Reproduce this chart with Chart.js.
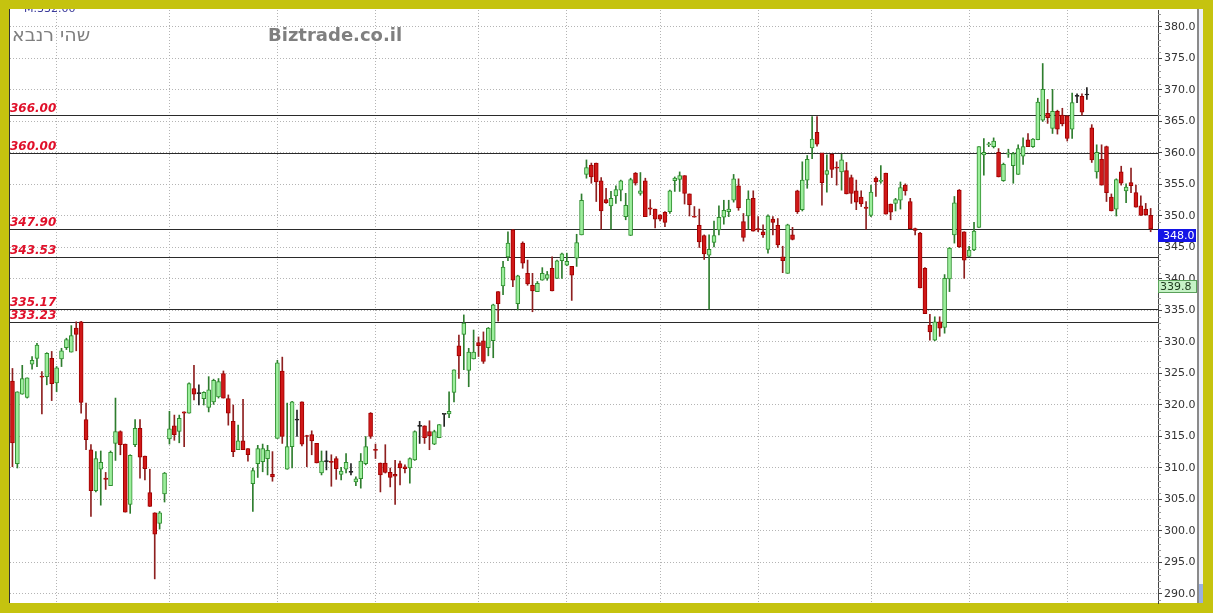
<!DOCTYPE html>
<html><head><meta charset="utf-8">
<script src="https://cdn.jsdelivr.net/npm/chart.js@4.4.1/dist/chart.umd.min.js"></script>
<style>html,body{margin:0;padding:0;background:#c5c30f;overflow:hidden}#wrap{position:absolute;left:0;top:0;width:1213px;height:613px}</style>
</head><body><div id="wrap"><canvas id="c" width="1213" height="613"></canvas></div>
<script>
const opens = [323.8,310.7,321.7,321.2,326.5,327.4,324.6,324.5,327.4,323.5,
327.3,329.1,328.4,332.2,333.2,317.7,312.9,306.4,309.8,308.4,
307.2,313.9,315.8,313.8,304.2,313.7,316.3,311.9,306.1,302.9,
301.2,305.9,314.6,316.7,315.8,318.9,318.7,322.6,321.8,321.0,
319.6,320.5,321.3,325.0,321.0,317.4,312.9,314.3,313.1,307.5,
310.7,311.0,311.5,309.0,314.7,325.4,309.8,313.4,317.6,320.5,
315.1,315.3,313.9,309.2,311.0,311.0,311.5,309.0,309.8,309.3,
307.8,308.3,310.7,318.7,312.9,310.8,310.8,309.3,309.0,310.7,
310.2,310.0,311.3,316.6,316.7,315.8,313.8,314.8,318.5,318.6,
322.0,329.4,331.2,325.5,327.3,329.9,330.2,329.1,330.2,338.0,
338.9,343.5,347.8,336.1,345.7,340.9,339.0,338.0,339.8,340.1,
341.7,340.1,342.9,342.2,342.0,343.3,347.0,356.6,358.1,358.4,
355.6,352.6,351.6,353.2,354.1,349.9,346.9,356.8,353.6,355.6,
351.3,351.1,350.2,350.6,350.7,355.6,355.8,356.4,353.5,350.0,
348.5,346.9,343.8,345.8,347.8,349.8,350.7,352.5,354.8,349.1,
350.0,352.8,348.0,347.5,344.7,349.5,348.5,343.5,340.9,347.0,
354.0,351.0,355.7,360.8,363.3,360.0,356.6,359.8,357.7,357.0,
357.2,356.1,354.0,353.0,351.4,350.1,356.0,355.5,356.8,351.9,
352.0,352.5,354.9,352.3,348.0,347.3,341.7,332.7,330.3,333.2,
332.3,340.0,347.0,354.1,347.5,343.6,344.6,348.2,359.7,361.3,
361.0,360.1,355.6,359.8,358.0,356.6,359.5,362.1,361.0,362.1,
365.2,366.3,363.9,366.6,366.0,365.9,363.8,369.0,369.0,369.2,
364.0,357.0,359.0,361.0,353.0,351.1,357.0,354.0,355.3,353.7,
351.6,351.1,350.1];
const highs = [325.8,322.1,326.3,324.3,327.7,329.8,325.3,328.3,328.5,326.1,
329.0,330.6,332.6,333.2,333.3,320.3,313.7,312.6,312.7,309.3,
312.7,321.1,315.9,313.8,312.1,317.7,317.7,311.9,309.8,302.9,
303.1,309.3,319.0,318.4,318.4,318.9,323.5,326.3,323.2,322.1,
324.5,324.1,324.2,325.4,321.6,320.0,316.8,320.9,313.1,310.0,
313.6,313.8,313.6,312.6,327.1,327.6,320.3,320.6,319.2,320.5,
315.2,315.9,313.9,312.7,312.7,312.1,311.8,310.1,312.3,310.7,
308.6,312.3,315.0,318.8,313.8,310.8,313.7,310.0,311.2,311.1,
310.5,311.6,315.9,317.4,316.7,317.5,316.0,316.9,318.5,322.1,
325.6,331.1,334.3,329.0,331.9,330.8,331.6,332.3,336.0,338.0,
342.8,347.5,347.9,340.6,345.9,343.0,340.9,339.6,341.8,341.2,
343.5,343.0,344.1,344.1,342.0,347.1,353.5,358.9,358.4,358.4,
356.1,354.4,353.9,354.8,355.7,353.6,356.0,356.9,356.9,356.0,
352.6,351.1,350.2,350.7,354.1,356.2,357.0,356.4,353.5,351.5,
351.1,347.0,347.0,349.2,351.6,352.5,352.5,356.6,355.9,350.4,
354.0,354.0,349.9,348.6,350.2,349.9,349.6,345.2,348.7,348.2,
354.1,358.6,359.6,365.8,365.8,360.0,359.7,359.9,358.6,359.8,
358.5,356.5,355.7,354.0,352.3,354.9,356.2,358.0,356.8,351.9,
352.8,355.4,355.1,352.8,348.1,347.4,341.8,334.4,334.0,334.0,
340.7,345.0,353.1,354.2,347.5,345.2,349.0,361.0,362.3,361.7,
362.4,360.7,358.4,360.6,360.1,361.3,362.4,363.1,362.3,368.7,
374.2,368.5,370.1,366.8,367.1,365.9,369.5,369.4,369.4,370.4,
364.5,361.3,361.3,361.1,353.5,355.9,357.9,355.1,357.6,354.9,
353.2,352.0,351.2];
const lows = [310.2,310.0,321.7,321.1,325.7,326.1,318.6,323.2,320.7,322.1,
326.1,328.8,328.4,328.6,318.7,312.9,302.3,306.2,304.1,306.6,
307.2,311.2,312.1,303.0,302.8,313.4,308.4,308.1,303.9,292.4,
300.3,304.6,313.8,314.4,314.0,313.4,318.7,320.8,320.0,320.0,
318.9,320.1,321.1,321.1,316.8,311.8,312.9,312.9,311.1,303.1,
308.5,309.4,308.9,307.9,314.7,313.9,309.8,310.0,315.0,313.5,
310.2,312.1,310.8,308.9,309.7,307.1,308.2,308.1,309.2,308.9,
307.2,306.8,310.5,314.7,311.5,306.2,309.2,307.0,304.2,307.3,
309.2,307.6,311.2,313.9,313.9,312.9,313.7,314.8,316.6,318.0,
320.5,324.2,325.6,322.9,327.3,327.7,326.6,327.8,327.5,333.3,
337.5,342.9,338.8,335.1,341.7,339.0,334.8,338.0,339.8,339.8,
338.1,340.1,340.1,342.1,336.6,342.0,347.0,356.0,355.2,352.3,
347.9,352.0,347.9,352.0,352.4,349.4,346.9,354.9,353.3,349.9,
350.2,348.1,349.2,348.3,350.4,353.9,353.9,351.9,350.0,349.8,
345.0,343.1,335.2,345.1,347.0,348.7,349.9,352.2,350.9,346.0,
347.9,347.6,347.5,346.6,344.1,347.0,345.0,341.0,340.9,346.2,
350.4,350.8,354.4,359.1,361.1,351.7,353.8,356.1,354.9,354.1,
353.5,352.0,351.0,351.5,347.9,349.9,353.1,355.2,350.3,349.4,
350.8,351.1,353.3,348.0,347.0,338.6,334.5,330.3,330.2,330.9,
331.4,338.0,345.7,345.0,340.1,343.6,344.5,348.2,356.5,361.0,
360.8,356.2,355.5,359.3,355.2,356.6,358.2,361.0,360.9,362.1,
365.0,364.7,363.1,363.0,364.3,361.9,362.3,368.0,366.0,368.5,
358.5,356.0,354.9,352.3,350.8,350.0,354.9,352.1,353.7,351.4,
350.1,350.1,347.5];
const closes = [314.0,322.1,324.2,324.3,327.1,329.5,324.4,328.2,323.4,325.9,
328.6,330.4,331.0,331.2,320.4,314.5,306.4,311.5,310.9,308.2,
312.5,315.8,313.7,303.0,312.0,316.3,311.7,309.9,303.9,299.5,
302.9,309.2,316.2,315.3,317.9,318.7,323.4,321.7,321.8,322.0,
322.4,323.9,323.7,321.1,318.7,312.6,314.3,312.9,312.1,309.6,
313.1,313.1,312.8,308.6,326.7,315.0,313.4,320.5,317.6,313.8,
315.0,314.3,310.8,311.1,311.0,310.9,309.9,309.5,310.9,309.3,
308.3,311.1,313.4,315.0,312.8,308.9,309.3,308.5,308.7,310.0,
309.9,311.5,315.8,316.6,314.8,315.1,315.8,316.9,318.5,319.0,
325.6,327.8,333.0,328.4,328.4,329.4,326.9,332.2,335.9,336.1,
341.9,345.7,339.8,340.5,342.5,339.2,338.1,339.3,340.9,340.7,
338.1,342.9,344.0,342.8,340.6,345.8,352.5,357.7,356.2,355.4,
350.8,352.1,352.8,354.2,355.6,351.7,355.8,355.2,354.0,349.9,
351.1,349.5,349.5,349.0,354.0,356.0,356.4,353.6,351.8,349.8,
345.9,344.0,344.7,346.9,349.8,350.9,351.1,355.9,351.3,346.6,
352.7,347.6,347.8,347.0,350.0,349.0,345.4,342.9,348.6,346.3,
350.7,355.7,359.0,362.2,361.4,355.3,357.2,357.4,357.6,358.9,
353.5,353.6,352.2,351.9,351.2,353.8,355.4,355.6,350.3,350.6,
352.6,354.5,354.0,348.0,347.7,338.6,334.5,331.6,333.2,332.2,
340.1,344.9,352.1,345.1,343.0,344.6,347.6,361.0,360.1,361.4,
361.9,356.2,358.2,359.9,359.9,360.7,361.0,361.0,362.2,368.1,
370.1,365.6,366.6,363.8,364.6,362.3,368.0,369.0,366.5,369.2,
358.9,360.1,354.9,353.7,350.8,355.8,355.2,354.6,354.8,351.4,
350.1,350.2,348.0];

const levelValues = [366.00, 360.00, 347.90, 343.53, 335.17, 333.23];
const levelLabels = ['366.00', '360.00', '347.90', '343.53', '335.17', '333.23'];
const monthLineIndex = [9, 32, 54, 74, 95, 113, 132, 152, 175, 195, 215];
const yTickValues = [290, 295, 300, 305, 310, 315, 320, 325, 330, 335, 340, 345, 350, 355, 360, 365, 370, 375, 380];
const lastPrice = 348.0;
const lastPriceLabel = '348.0';
const markerPrice = 339.8;
const markerLabel = '339.8';
const titleHebrew = 'אבנר יהש';
const titleSite = 'Biztrade.co.il';
const topInfo = 'M.332.00';

const UP_FILL = '#9cee9c', UP_BORDER = '#2f8f2f', UP_WICK = '#2e7d2e';
const DN_FILL = '#d01818', DN_BORDER = '#a00000', DN_WICK = '#8e2020';
const DJ = '#222222';

const dir = opens.map((o, i) => closes[i] > o ? 1 : (closes[i] < o ? -1 : 0));
const bodyFill = dir.map(d => d > 0 ? UP_FILL : d < 0 ? DN_FILL : DJ);
const bodyBorder = dir.map(d => d > 0 ? UP_BORDER : d < 0 ? DN_BORDER : DJ);
const wickColor = dir.map(d => d > 0 ? UP_WICK : d < 0 ? DN_WICK : DJ);

// draw characters one by one, left to right (as in the original image)
function drawCharsLTR(ctx, text, x, y) {
  let cx = x;
  for (const ch of text) {
    ctx.fillText(ch, cx, y);
    cx += ctx.measureText(ch).width;
  }
}

const deco = {
  id: 'deco',
  beforeDraw(chart) {
    const ctx = chart.ctx;
    ctx.save();
    ctx.fillStyle = '#c5c30f';
    ctx.fillRect(0, 0, 1213, 613);
    ctx.fillStyle = '#ffffff';
    ctx.fillRect(9, 9, 1194, 594);
    ctx.fillStyle = '#eef0f6';
    ctx.fillRect(1199, 9, 4, 594);
    ctx.fillStyle = '#8a8a8a';
    ctx.fillRect(1197, 9, 2, 594);
    ctx.fillStyle = '#9ab0e0';
    ctx.fillRect(1199, 584, 4, 19);
    ctx.restore();
  },
  beforeDatasetsDraw(chart) {
    const {ctx, chartArea: {left, right}, scales: {y}} = chart;
    ctx.save();
    ctx.strokeStyle = '#2a2a2a';
    ctx.lineWidth = 1;
    levelValues.forEach(v => {
      const py = Math.round(y.getPixelForValue(v)) + 0.5;
      ctx.beginPath(); ctx.moveTo(left, py); ctx.lineTo(right, py); ctx.stroke();
    });
    ctx.restore();
  },
  afterDraw(chart) {
    const {ctx, chartArea: {left, right, top, bottom}, scales: {y}} = chart;
    ctx.save();
    ctx.fillStyle = '#333';
    ctx.fillRect(9, 9, 1, 594);
    ctx.strokeStyle = '#999';
    ctx.lineWidth = 1;
    for (let v = 289; v <= 382; v++) {
      if (v % 5 === 0) continue;
      const py = Math.round(y.getPixelForValue(v)) + 0.5;
      ctx.beginPath(); ctx.moveTo(right, py); ctx.lineTo(right + 3, py); ctx.stroke();
    }
    ctx.font = 'italic bold 12px "DejaVu Sans"';
    ctx.fillStyle = '#e0102a';
    ctx.textBaseline = 'alphabetic';
    ctx.textAlign = 'left';
    levelValues.forEach((v, i) => {
      const py = Math.round(y.getPixelForValue(v)) + 0.5;
      ctx.fillText(levelLabels[i], 10, py - 4);
    });
    ctx.fillStyle = '#7f7f7f';
    ctx.font = '19px "DejaVu Sans"';
    drawCharsLTR(ctx, titleHebrew, 12, 41);
    ctx.font = 'bold 18px "DejaVu Sans"';
    ctx.fillText(titleSite, 268, 41);
    ctx.save();
    ctx.beginPath(); ctx.rect(9, 9, 1194, 594); ctx.clip();
    ctx.font = '11px "DejaVu Sans"';
    ctx.fillStyle = '#3a3a9a';
    ctx.fillText(topInfo, 24, 12);
    ctx.restore();
    const yb = Math.round(y.getPixelForValue(lastPrice));
    ctx.fillStyle = '#1414e6';
    ctx.fillRect(right, yb, 38, 13);
    ctx.fillStyle = '#ffffff';
    ctx.font = '11px "DejaVu Sans"';
    ctx.textBaseline = 'middle';
    ctx.fillText(lastPriceLabel, right + 5, yb + 7);
    const ym = Math.round(y.getPixelForValue(markerPrice));
    ctx.fillStyle = '#c6f2c6';
    ctx.fillRect(right, ym, 39, 13);
    ctx.strokeStyle = '#5aa05a';
    ctx.strokeRect(right + 0.5, ym + 0.5, 38, 12);
    ctx.fillStyle = '#1e3a1e';
    ctx.fillText(markerLabel, right + 2, ym + 7);
    ctx.restore();
  }
};

new Chart(document.getElementById('c'), {
  type: 'bar',
  data: {
    datasets: [
      {
        label: 'wick',
        data: lows.map((l, i) => ({x: i, y: [l, highs[i]]})),
        backgroundColor: wickColor,
        borderWidth: 0,
        barThickness: 1,
        grouped: false,
        order: 2
      },
      {
        label: 'body',
        data: opens.map((o, i) => ({x: i, y: [o, closes[i]]})),
        backgroundColor: bodyFill,
        borderColor: bodyBorder,
        borderWidth: 1,
        borderSkipped: false,
        barThickness: 4,
        minBarLength: 1,
        grouped: false,
        order: 1
      }
    ]
  },
  options: {
    responsive: false,
    devicePixelRatio: 1,
    animation: false,
    layout: {padding: {left: 10, top: 10, right: 10, bottom: 10}},
    plugins: {legend: {display: false}, tooltip: {enabled: false}},
    scales: {
      x: {
        type: 'linear',
        offset: false,
        min: -0.5,
        max: 233.5,
        afterBuildTicks: s => { s.ticks = monthLineIndex.map(v => ({value: v})); },
        afterFit: s => { s.height = 0; },
        ticks: {display: false},
        grid: {color: '#b4b4b4', lineWidth: 1, drawTicks: false, offset: false},
        border: {display: false, dash: [1, 2]}
      },
      y: {
        position: 'right',
        min: 288.571,
        max: 382.698,
        afterBuildTicks: s => { s.ticks = yTickValues.map(v => ({value: v})); },
        afterFit: s => { s.width = 45; },
        ticks: {
          autoSkip: false,
          padding: 2,
          color: '#333333',
          font: {family: 'DejaVu Sans', size: 11},
          callback: v => Number(v).toFixed(1)
        },
        grid: {color: '#b4b4b4', lineWidth: 1, drawTicks: true, tickLength: 4, tickColor: '#444444'},
        border: {display: true, color: '#444444', width: 1, dash: [1, 2]}
      }
    }
  },
  plugins: [deco]
});
</script>
</body></html>
